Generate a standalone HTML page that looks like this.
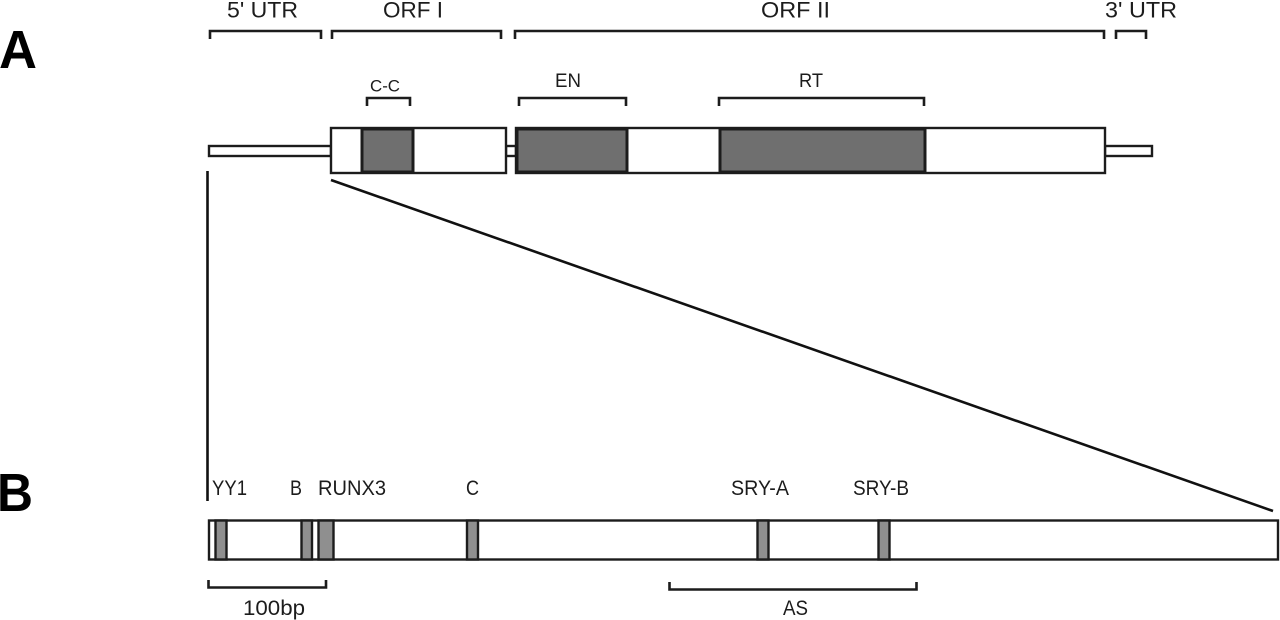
<!DOCTYPE html>
<html><head><meta charset="utf-8"><style>
html,body{margin:0;padding:0;background:#fff;width:1280px;height:620px;overflow:hidden}
svg{display:block;filter:blur(0.35px)}
text{font-family:"Liberation Sans",sans-serif;fill:#1c1c1c}
</style></head><body>
<svg width="1280" height="620" viewBox="0 0 1280 620" xmlns="http://www.w3.org/2000/svg">
<rect width="1280" height="620" fill="#fff"/>
<text x="-1" y="68" font-size="54" font-weight="700" textLength="38" lengthAdjust="spacingAndGlyphs" style="fill:#000">A</text>
<text x="-3" y="511" font-size="54" font-weight="700" textLength="36" lengthAdjust="spacingAndGlyphs" style="fill:#000">B</text>

<g font-size="22.500">
<text x="227" y="17.500" textLength="71" lengthAdjust="spacingAndGlyphs">5' UTR</text>
<text x="383" y="17.500" textLength="60" lengthAdjust="spacingAndGlyphs">ORF I</text>
<text x="761" y="17.500" textLength="69" lengthAdjust="spacingAndGlyphs">ORF II</text>
<text x="1105" y="17.500" textLength="72" lengthAdjust="spacingAndGlyphs">3' UTR</text>
</g>
<text x="370" y="91.500" font-size="17" textLength="30" lengthAdjust="spacingAndGlyphs">C-C</text>
<text x="555" y="87" font-size="19" textLength="26" lengthAdjust="spacingAndGlyphs">EN</text>
<text x="799" y="87" font-size="19" textLength="24" lengthAdjust="spacingAndGlyphs">RT</text>

<g fill="none" stroke="#1c1c1c" stroke-width="2.600">
<path d="M210 39V31H321V39M332 39V31H501V39M515 39V31H1104V39M1116 39V31H1146V39"/>
<path d="M367 106V98H410V106M519 106V98H626V106M719 106V98H924V106"/>
</g>

<g stroke="#1c1c1c" stroke-width="2.400">
<rect x="209" y="146" width="122" height="10" fill="#fff"/>
<rect x="506" y="146" width="10" height="10" fill="#fff"/>
<rect x="1105" y="146" width="47" height="10" fill="#fff"/>
<rect x="331" y="128" width="175" height="45" fill="#fff"/>
<rect x="516" y="128" width="589" height="45" fill="#fff"/>
<rect x="362" y="129" width="51" height="43" fill="#6f6f6f" stroke-width="3"/>
<rect x="517" y="129" width="110" height="43" fill="#6f6f6f" stroke-width="3"/>
<rect x="720" y="129" width="205" height="43" fill="#6f6f6f" stroke-width="3"/>
</g>

<g stroke="#111" stroke-width="2.600" fill="none">
<path d="M207.500 171V501"/>
<path d="M331 180L1273 511"/>
</g>

<g font-size="21.500">
<text x="212" y="495" textLength="35" lengthAdjust="spacingAndGlyphs">YY1</text>
<text x="290" y="495" textLength="12" lengthAdjust="spacingAndGlyphs">B</text>
<text x="318" y="495" textLength="68" lengthAdjust="spacingAndGlyphs">RUNX3</text>
<text x="466" y="495" textLength="13" lengthAdjust="spacingAndGlyphs">C</text>
<text x="731" y="495" textLength="58" lengthAdjust="spacingAndGlyphs">SRY-A</text>
<text x="853" y="495" textLength="56" lengthAdjust="spacingAndGlyphs">SRY-B</text>
<text x="243" y="615" textLength="62" lengthAdjust="spacingAndGlyphs">100bp</text>
<text x="783" y="615" textLength="25" lengthAdjust="spacingAndGlyphs">AS</text>
</g>

<g stroke="#1c1c1c" stroke-width="2.400">
<rect x="209" y="520.500" width="1069" height="39" fill="#fff"/>
<g fill="#8f8f8f">
<rect x="215.500" y="520.500" width="11" height="39"/>
<rect x="301.500" y="520.500" width="10.500" height="39"/>
<rect x="318.500" y="520.500" width="15" height="39"/>
<rect x="467" y="520.500" width="11" height="39"/>
<rect x="757.500" y="520.500" width="11" height="39"/>
<rect x="878.500" y="520.500" width="11" height="39"/>
</g>
</g>

<g fill="none" stroke="#1c1c1c" stroke-width="2.600">
<path d="M208.500 580V587.500H326V580"/>
<path d="M669.500 582V589.500H916.500V582"/>
</g>
</svg>
</body></html>
